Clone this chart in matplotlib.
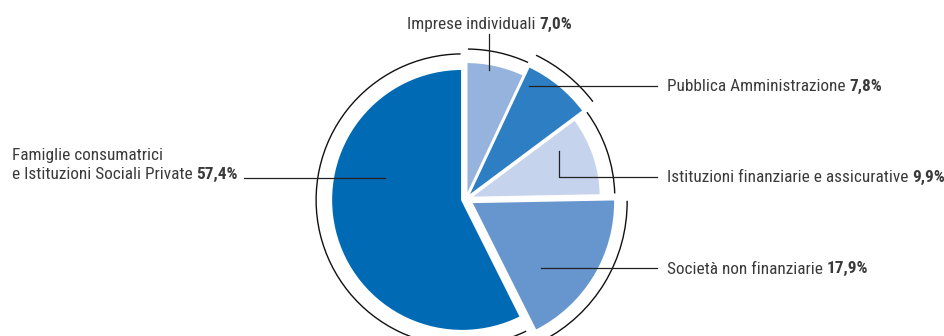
import matplotlib
matplotlib.use("Agg")
import matplotlib.pyplot as plt
from matplotlib.patches import Arc

# dati (quote percentuali)
labels = ["Imprese individuali", "Pubblica Amministrazione",
          "Istituzioni finanziarie e assicurative", "Società non finanziarie",
          "Famiglie consumatrici\ne Istituzioni Sociali Private"]
shares = [7.0, 7.8, 9.9, 17.9, 57.4]
pct_labels = ["7,0%", "7,8%", "9,9%", "17,9%", "57,4%"]
colors = ["#95b3dc", "#2e7ec3", "#c6d3ec", "#6796cf", "#006ab5"]

# stile: raggio di ogni spicchio, scostamento, raggio dell'arco esterno (px)
radii = [135, 145, 131, 144, 131]
explode = [2, 2, 4, 6, 4]
arc_gap = [13, 13, 14, 12, 15]

W, H = 945, 336
CX, CY = 466, H - 199
TXT = "#3a3a3a"
FONT = ["Roboto Condensed", "PT Sans Narrow", "DejaVu Sans"]

fig = plt.figure(figsize=(W / 100, H / 100), dpi=100)
ax = fig.add_axes([0, 0, 1, 1])

wedges, _ = ax.pie(shares, colors=colors, startangle=90, counterclock=False,
                   radius=135, center=(CX, CY), explode=explode,
                   wedgeprops=dict(edgecolor="white", linewidth=1.5))
ax.set_xlim(0, W)
ax.set_ylim(0, H)
ax.set_aspect("equal")
ax.axis("off")

for w, r, g in zip(wedges, radii, arc_gap):
    w.set_radius(r)
    ax.add_patch(Arc(w.center, 2 * (r + g), 2 * (r + g), theta1=w.theta1 + 0.6,
                     theta2=w.theta2 - 0.6, color="#111111", lw=1.0))

# linee di richiamo e etichette
lk = dict(color="#222222", lw=0.9)
fs = 12.4


def label(x, y, name, pct, ha="left"):
    t = ax.annotate(name + " ", (x, y), ha=ha, va="center", fontsize=fs,
                    color=TXT, family=FONT)
    ax.annotate(pct, xycoords=t, xy=(1, 0), va="bottom", fontsize=fs,
                color=TXT, family=FONT, fontweight="bold")
    return t


# Imprese individuali
ax.plot([489, 489], [H - 70, H - 34], **lk)
label(473, H - 24, labels[0], pct_labels[0], ha="center")

# Pubblica Amministrazione
ax.plot([529, 657], [H - 86, H - 86], **lk)
label(667, H - 87, labels[1], pct_labels[1])

# Istituzioni finanziarie
ax.plot([559, 559, 657], [H - 151, H - 177, H - 177], **lk)
label(667, H - 178, labels[2], pct_labels[2])

# Societa non finanziarie
ax.plot([541, 657], [H - 268, H - 268], **lk)
label(667, H - 269, labels[3], pct_labels[3])

# Famiglie
ax.plot([244, 385], [H - 178, H - 178], **lk)
first, second = labels[4].split("\n")
ax.text(12, H - 156, first, ha="left", va="center", fontsize=fs, color=TXT,
        family=FONT)
label(12, H - 175, second, pct_labels[4])

fig.savefig("out.png", dpi=100)
